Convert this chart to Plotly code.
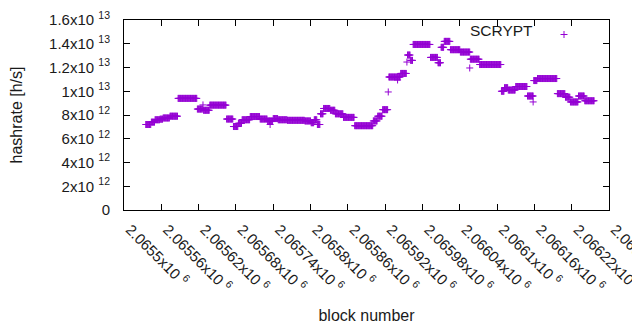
import plotly.graph_objects as go

# Runs of constant hashrate: first block, last block, hashrate (x10^12 h/s)
run_first = [2065535, 2065544, 2065550, 2065558, 2065563, 2065574, 2065587, 2065618, 2065627, 2065628,
             2065638, 2065665, 2065676, 2065684, 2065690, 2065703, 2065719, 2065731, 2065735, 2065740,
             2065748, 2065763, 2065791, 2065801, 2065806, 2065811, 2065816, 2065821, 2065832, 2065840,
             2065853, 2065871, 2065901, 2065908, 2065916, 2065925, 2065926, 2065940, 2065945, 2065955,
             2065956, 2065961, 2065965, 2065993, 2066005, 2066010, 2066015, 2066025, 2066041, 2066056,
             2066057, 2066072, 2066107, 2066112, 2066118, 2066130, 2066149, 2066158, 2066159, 2066165,
             2066197, 2066210, 2066218, 2066231, 2066241]
run_last = [2065543, 2065549, 2065557, 2065562, 2065573, 2065586, 2065617, 2065626, 2065627, 2065637,
            2065664, 2065675, 2065683, 2065689, 2065702, 2065718, 2065730, 2065739, 2065735, 2065747,
            2065762, 2065790, 2065800, 2065805, 2065810, 2065815, 2065820, 2065831, 2065839, 2065852,
            2065870, 2065900, 2065907, 2065915, 2065924, 2065925, 2065944, 2065940, 2065954, 2065955,
            2065960, 2065964, 2065992, 2066004, 2066009, 2066014, 2066024, 2066040, 2066056, 2066056,
            2066071, 2066106, 2066111, 2066117, 2066129, 2066148, 2066158, 2066158, 2066164, 2066196,
            2066209, 2066217, 2066230, 2066240, 2066256]
run_value = [7.2, 7.4, 7.6, 7.65, 7.75, 7.9, 9.4, 8.5, 8.85, 8.4,
             8.83, 7.66, 7.03, 7.3, 7.6, 7.87, 7.66, 7.5, 7.2, 7.7,
             7.6, 7.55, 7.5, 7.35, 7.6, 7.2, 8.1, 8.55, 8.4, 8.1,
             7.8, 7.1, 7.5, 7.9, 8.45, 9.94, 11.2, 10.95, 11.5, 12.46,
             13.05, 12.6, 13.94, 12.85, 12.4, 13.7, 14.2, 13.5, 13.3, 11.96,
             12.7, 12.25, 10.0, 10.3, 10.1, 10.4, 9.6, 9.1, 10.9, 11.07,
             9.8, 9.5, 9.1, 9.6, 9.2]

x_tickvals = [2065500 + 60 * k for k in range(14)]
y_tickvals = [0, 2e12, 4e12, 6e12, 8e12, 1e13, 1.2e13, 1.4e13, 1.6e13]
y_ticktext = ["0", "2x10 <sup>12</sup>", "4x10 <sup>12</sup>", "6x10 <sup>12</sup>", "8x10 <sup>12</sup>",
              "1x10 <sup>13</sup>", "1.2x10 <sup>13</sup>", "1.4x10 <sup>13</sup>", "1.6x10 <sup>13</sup>"]
x_ticktext = [f"{v / 1e6:.6g}x10 <sup>6</sup>" for v in x_tickvals]

blocks, rates = [], []
for a, b, v in zip(run_first, run_last, run_value):
    for blk in range(a, b + 1):
        blocks.append(blk)
        rates.append(v * 1e12)

COLOR = "#9400D3"
FONT = "Liberation Sans, Arial, sans-serif"
TXT = "#1a1a1a"

fig = go.Figure()
fig.add_trace(go.Scatter(
    x=blocks, y=rates, mode="markers", name=" ",
    marker=dict(symbol="cross-thin", size=5, color=COLOR, line=dict(color=COLOR, width=1)),
    showlegend=True, cliponaxis=False,
))

axis_common = dict(showline=True, linecolor="black", linewidth=1, mirror="ticks",
                   ticks="inside", ticklen=6, tickcolor="black", showgrid=False, zeroline=False,
                   automargin=False, ticklabeloverflow="allow",
                   tickfont=dict(family=FONT, size=15, color=TXT))

fig.update_xaxes(range=[2065500, 2066280], tickmode="array", tickvals=x_tickvals, ticktext=x_ticktext,
                 tickangle=45, ticklabelstandoff=4, ticklabelshift=6,
                 title=dict(text="block number", standoff=15, font=dict(family=FONT, size=16, color=TXT)),
                 **axis_common)
fig.update_yaxes(range=[0, 1.6e13], tickmode="array", tickvals=y_tickvals, ticktext=y_ticktext,
                 ticklabelstandoff=10,
                 title=dict(text="hashrate [h/s]", standoff=23, font=dict(family=FONT, size=16, color=TXT)),
                 **axis_common)

fig.add_annotation(text="SCRYPT", xref="paper", yref="paper", x=0.848, y=0.945,
                   xanchor="right", yanchor="middle", showarrow=False,
                   font=dict(family=FONT, size=15.5, color=TXT))

# page body adds an 8px offset; compensate so the plot frame lands at the reference pixels
fig.update_layout(
    width=632, height=322,
    margin=dict(l=116, r=31, t=12, b=120),
    plot_bgcolor="white", paper_bgcolor="white",
    legend=dict(x=0.866, y=1.0, xanchor="left", yanchor="top", bgcolor="rgba(0,0,0,0)",
                font=dict(family=FONT, size=8)),
)

fig.write_html("out.html")
